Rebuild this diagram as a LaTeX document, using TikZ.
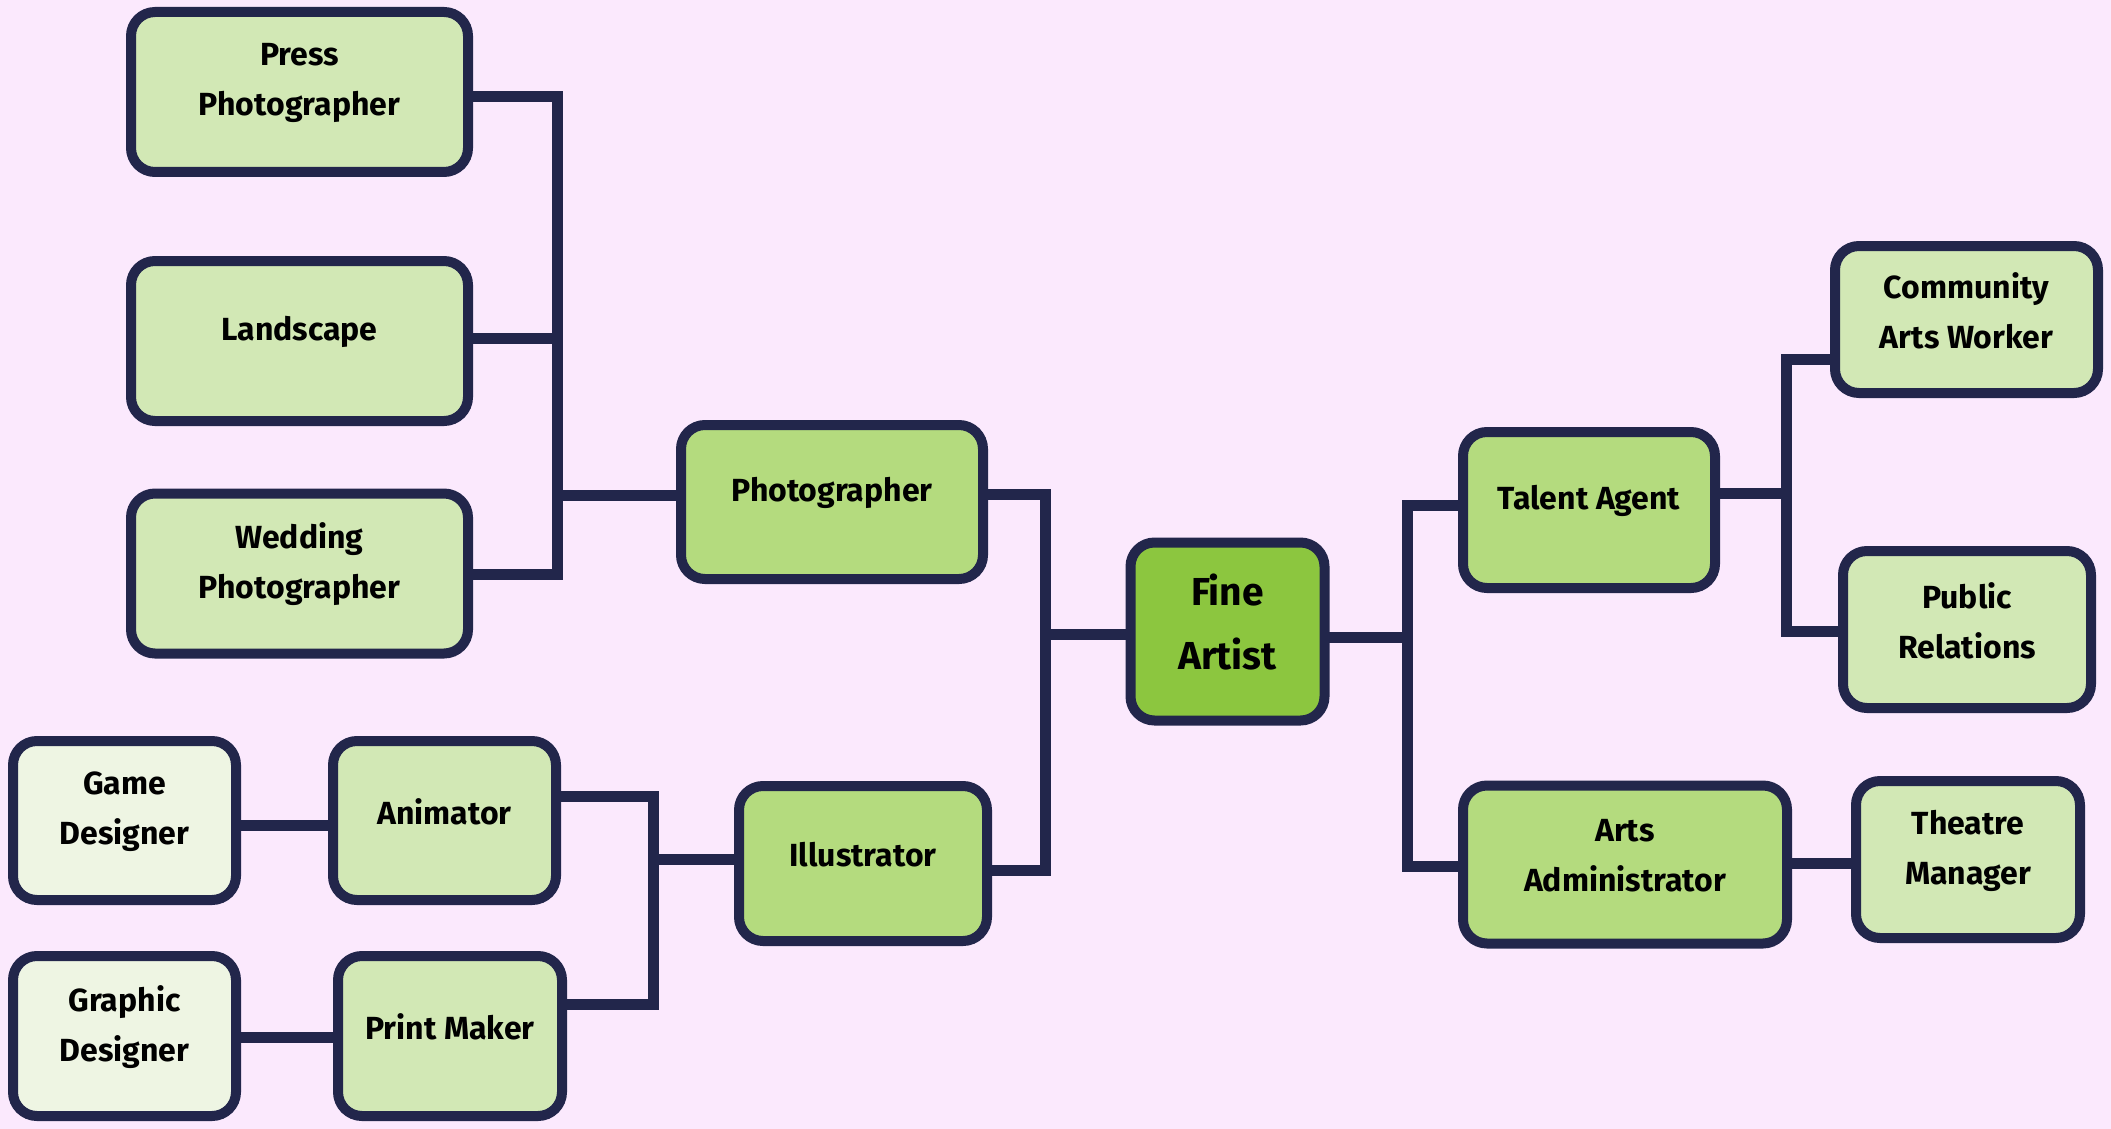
\documentclass[tikz,border=0pt]{standalone}
\usepackage{fontspec}
\setmainfont{Fira Sans}
\usetikzlibrary{calc}
\definecolor{bgcol}{HTML}{FBE9FD}
\definecolor{edgecol}{HTML}{22264B}
\definecolor{fillA}{HTML}{EEF5E3}
\definecolor{fillB}{HTML}{D2E8B5}
\definecolor{fillC}{HTML}{B4DB7E}
\definecolor{fillD}{HTML}{8CC63F}
\tikzset{
  box/.style={draw=edgecol, line width=5pt, rounded corners=12pt, inner sep=0pt, outer sep=0pt},
  lbl/.style={align=center, yshift=4.5pt, text=black, inner sep=0pt,
    font={\fontsize{16}{25}\selectfont\bfseries}},
  biglbl/.style={align=center, yshift=4.5pt, text=black, inner sep=0pt,
    font={\fontsize{19.5}{32}\selectfont\bfseries}},
  conn/.style={draw=edgecol, line width=5.5pt, line join=miter, line cap=butt}
}
\begin{document}
\begin{tikzpicture}[x=0.5pt, y=-0.5pt]
\fill[bgcol] (0,0) rectangle (2111,1129);
\useasboundingbox (0,0) rectangle (2111,1129);

% junctions
\coordinate (jP) at (557,495);
\coordinate (jF) at (1045,634);
\coordinate (jI) at (653,859);
\coordinate (jT) at (1407,637);
\coordinate (jC) at (1786,493);

% nodes
\node[box, fill=fillB, minimum width=168.5pt, minimum height=80pt,
  label={[lbl]center:{Press\\Photographer}}] (press) at (299.5,92) {};
\node[box, fill=fillB, minimum width=168.5pt, minimum height=80pt,
  label={[lbl]center:{Landscape}}] (land) at (299.5,341) {};
\node[box, fill=fillB, minimum width=168.5pt, minimum height=80pt,
  label={[lbl]center:{Wedding\\Photographer}}] (wed) at (299.5,573.5) {};
\node[box, fill=fillC, minimum width=151pt, minimum height=77pt,
  label={[lbl]center:{Photographer}}] (photo) at (832,502) {};
\node[box, fill=fillC, minimum width=124pt, minimum height=77.5pt,
  label={[lbl]center:{Illustrator}}] (illus) at (863,863.5) {};
\node[box, fill=fillA, minimum width=111.5pt, minimum height=79.5pt,
  label={[lbl]center:{Game\\Designer}}] (game) at (124.5,820.5) {};
\node[box, fill=fillB, minimum width=111.5pt, minimum height=79.5pt,
  label={[lbl]center:{Animator}}] (anim) at (444.5,820.5) {};
\node[box, fill=fillA, minimum width=111.5pt, minimum height=80pt,
  label={[lbl]center:{Graphic\\Designer}}] (graphic) at (124.5,1036) {};
\node[box, fill=fillB, minimum width=112pt, minimum height=80pt,
  label={[lbl]center:{Print Maker}}] (print) at (450,1036) {};
\node[box, fill=fillD, minimum width=97pt, minimum height=89pt,
  label={[biglbl]center:{Fine\\Artist}}] (fine) at (1227.5,631.5) {};
\node[box, fill=fillC, minimum width=126pt, minimum height=78pt,
  label={[lbl]center:{Talent Agent}}] (talent) at (1589,510) {};
\node[box, fill=fillC, minimum width=162pt, minimum height=79pt,
  label={[lbl]center:{Arts\\Administrator}}] (admin) at (1625,864.5) {};
\node[box, fill=fillB, minimum width=131.5pt, minimum height=73.5pt,
  label={[lbl]center:{Community\\Arts Worker}}] (comm) at (1966.5,319.5) {};
\node[box, fill=fillB, minimum width=124pt, minimum height=78.5pt,
  label={[lbl]center:{Public\\Relations}}] (public) at (1967,629.5) {};
\node[box, fill=fillB, minimum width=112pt, minimum height=78.5pt,
  label={[lbl]center:{Theatre\\Manager}}] (theatre) at (1968,859.5) {};

% connectors
\draw[conn] (press.east |- 0,97) -| (jP) |- (wed.east |- 0,574);
\draw[conn] (land.east |- 0,338) -- (jP |- 0,338);
\draw[conn] (jP) -- (photo.west |- jP);

\draw[conn] (photo.east |- 0,494) -| (jF) |- (illus.east |- 0,870);
\draw[conn] (jF) -- (fine.west |- jF);

\draw[conn] (anim.east |- 0,796) -| (jI) |- (print.east |- 0,1004);
\draw[conn] (jI) -- (illus.west |- jI);
\draw[conn] (game.east |- 0,825) -- (anim.west |- 0,825);
\draw[conn] (graphic.east |- 0,1037) -- (print.west |- 0,1037);

\draw[conn] (fine.east |- jT) -- (jT);
\draw[conn] (talent.west |- 0,505) -| (jT) |- (admin.west |- 0,866);

\draw[conn] (talent.east |- jC) -- (jC);
\draw[conn] (comm.west |- 0,359) -| (jC) |- (public.west |- 0,631);

\draw[conn] (admin.east |- 0,863) -- (theatre.west |- 0,863);
\end{tikzpicture}
\end{document}
